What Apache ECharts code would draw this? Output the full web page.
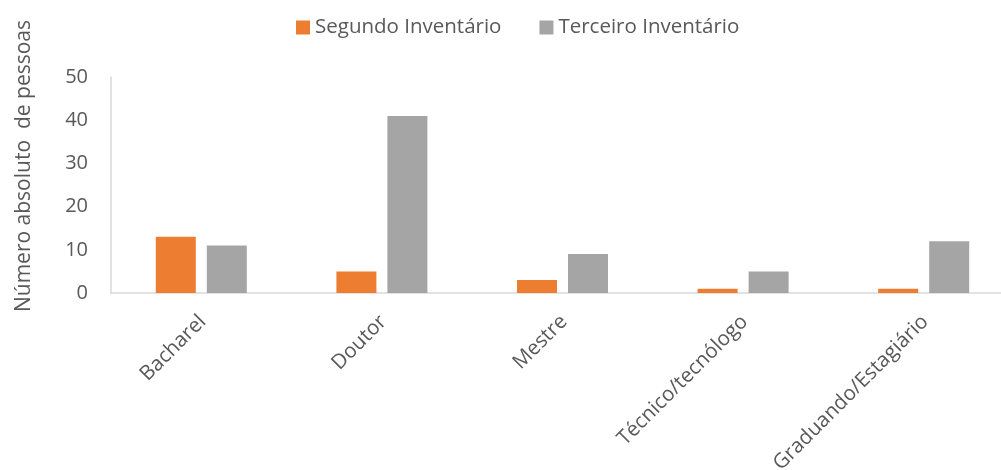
<!DOCTYPE html>
<html>
<head>
<meta charset="utf-8">
<script src="https://cdn.jsdelivr.net/npm/echarts@6/dist/echarts.min.js"></script>
<style>
  html, body { margin: 0; padding: 0; background: #ffffff; }
  #chart { width: 1001px; height: 470px; }
</style>
</head>
<body>
<div id="chart"></div>
<script>
// Formação dos participantes por inventário
const categories = ['Bacharel', 'Doutor', 'Mestre', 'Técnico/tecnólogo', 'Graduando/Estagiário'];
const segundoInventario = [13, 5, 3, 1, 1];
const terceiroInventario = [11, 41, 9, 5, 12];
const seriesNames = ['Segundo Inventário', 'Terceiro Inventário'];
const yAxisTitle = 'Número absoluto  de pessoas';

const FONT = '"Open Sans", "Noto Sans", sans-serif';
const TEXT = '#595959';
const AXIS = '#D9D9D9';

const chart = echarts.init(document.getElementById('chart'), null, { renderer: 'canvas' });

chart.setOption({
  animation: false,
  backgroundColor: '#ffffff',
  textStyle: { fontFamily: FONT, color: TEXT },
  legend: {
    left: 291,
    top: 12,
    itemWidth: 14,
    itemHeight: 14,
    itemGap: 38,
    icon: 'rect',
    textStyle: { fontFamily: FONT, fontSize: 20.5, color: TEXT },
    data: seriesNames
  },
  grid: {
    left: 111, right: -13, top: 77, bottom: 177,
    containLabel: false,
    outerBoundsMode: 'none'
  },
  xAxis: {
    type: 'category',
    data: categories,
    axisLine: { show: true, lineStyle: { color: AXIS, width: 1.5 } },
    axisTick: { show: false },
    axisLabel: {
      rotate: 45,
      margin: 27,
      interval: 0,
      padding: [0, -2, 0, 0],
      fontFamily: FONT,
      fontSize: 20.5,
      color: TEXT
    }
  },
  yAxis: {
    type: 'value',
    min: 0,
    max: 50,
    interval: 10,
    name: yAxisTitle,
    nameLocation: 'middle',
    nameRotate: 90,
    nameGap: 76,
    nameTextStyle: { fontFamily: FONT, fontSize: 21, color: TEXT, padding: [0, 0, 0, 38] },
    axisLine: { show: true, lineStyle: { color: AXIS, width: 1.5 } },
    axisTick: { show: false },
    splitLine: { show: false },
    axisLabel: { margin: 23, fontFamily: FONT, fontSize: 20, color: TEXT }
  },
  series: [
    {
      name: seriesNames[0],
      type: 'bar',
      data: segundoInventario,
      barWidth: 40,
      barGap: '27.5%',
      itemStyle: { color: '#ED7D31' }
    },
    {
      name: seriesNames[1],
      type: 'bar',
      data: terceiroInventario,
      barWidth: 40,
      itemStyle: { color: '#A5A5A5' }
    }
  ]
});
</script>
</body>
</html>
